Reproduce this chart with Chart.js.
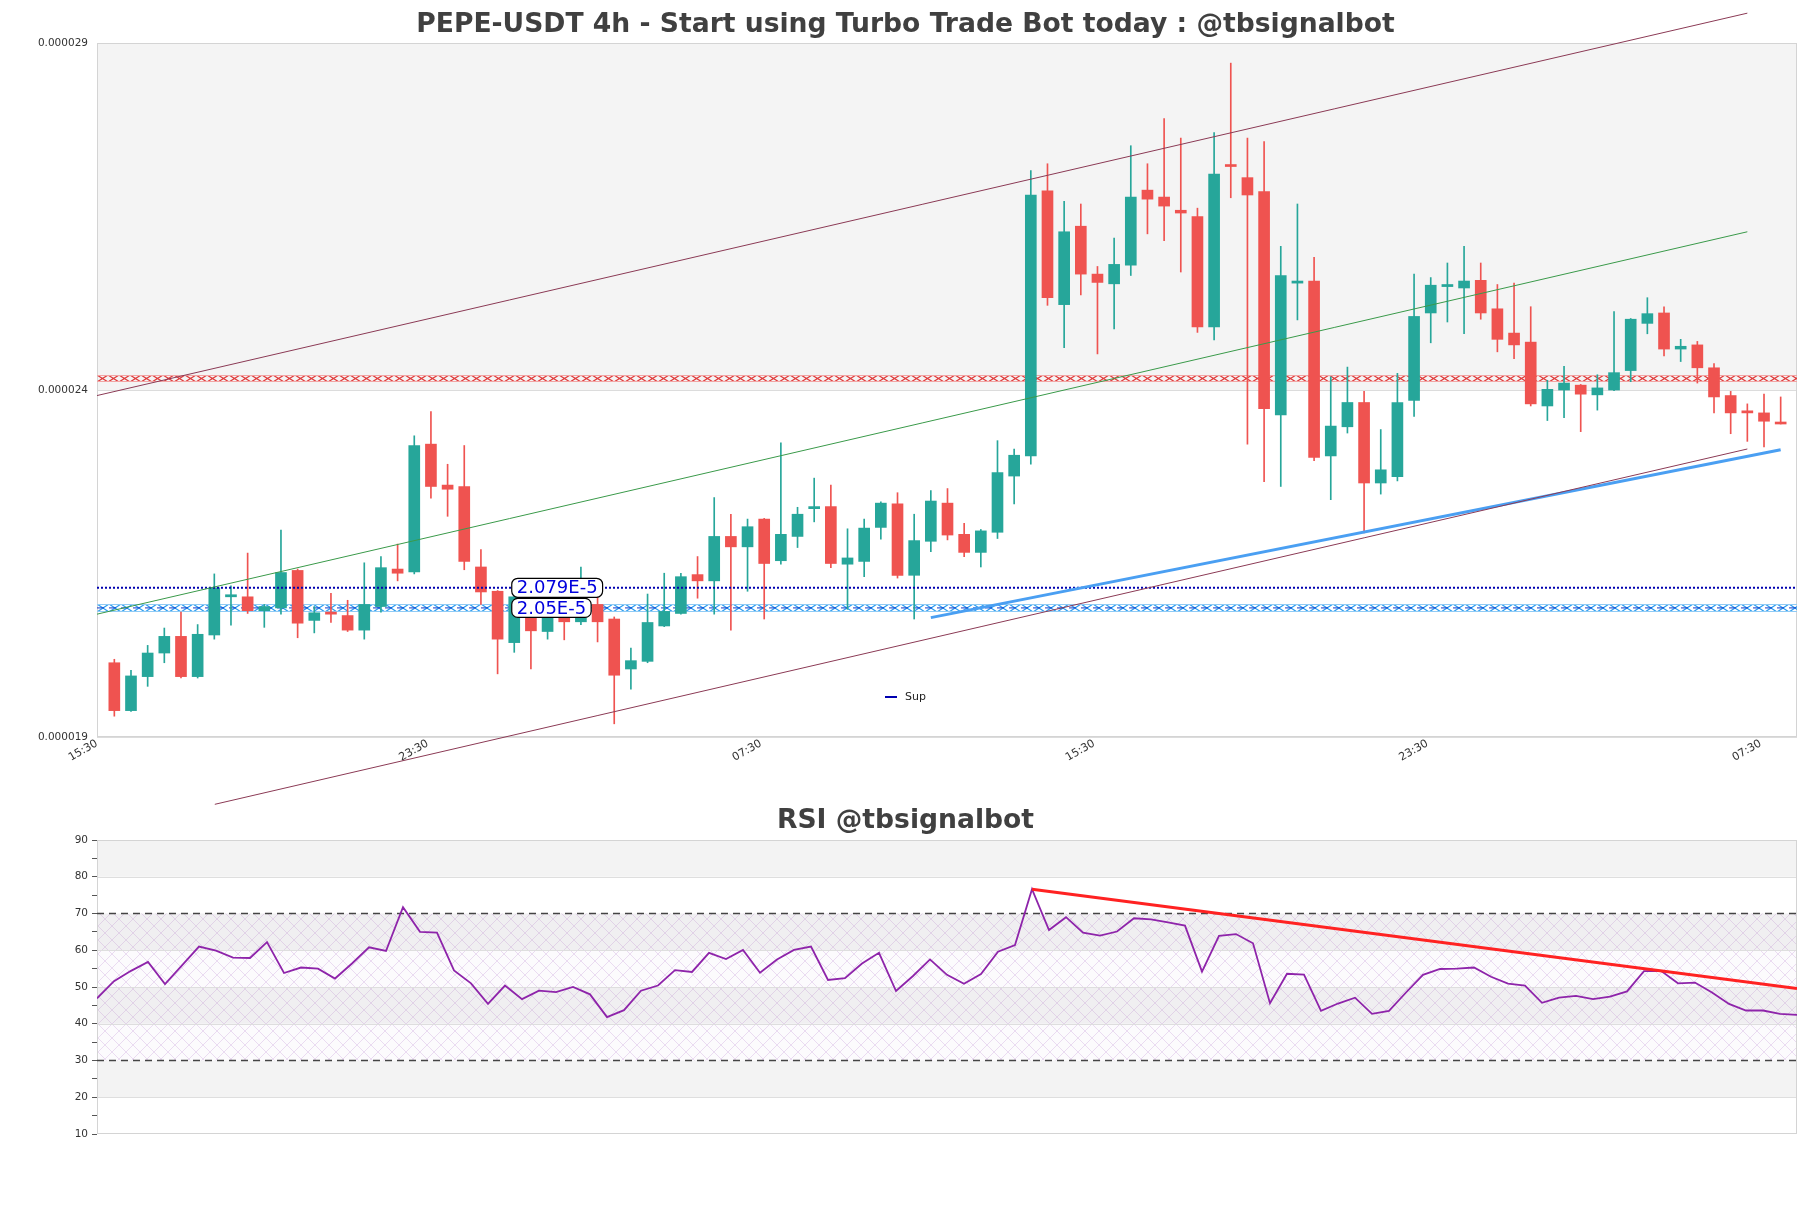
<!DOCTYPE html>
<html>
<head>
<meta charset="utf-8">
<script src="https://cdn.jsdelivr.net/npm/chart.js@4.4.1/dist/chart.umd.min.js"></script>
<style>
  html, body { margin: 0; padding: 0; background: #fff; }
  #wrap { position: relative; width: 1811px; height: 1208px; }
  #priceChart { position: absolute; left: 0; top: 0; }
  #rsiChart { position: absolute; left: 0; top: 800px; }
</style>
</head>
<body>
<div id="wrap">
  <canvas id="priceChart" width="1811" height="830"></canvas>
  <canvas id="rsiChart" width="1811" height="408"></canvas>
</div>
<script>
// prices are in millionths of USDT (24 -> 0.000024)
const openP = [20.07,19.38,19.87,20.21,20.45,19.87,20.47,21.02,21.02,20.82,
  20.86,21.40,20.68,20.80,20.75,20.54,20.88,21.42,21.38,23.22,
  22.63,22.61,21.45,21.10,20.36,20.74,20.52,20.74,20.66,20.91,
  20.70,19.98,20.09,20.60,20.78,21.34,21.25,21.89,21.74,22.14,
  21.54,21.89,22.29,22.32,21.49,21.53,22.02,22.36,21.33,21.82,
  22.37,21.92,21.66,21.95,22.76,23.05,26.87,25.23,26.36,25.67,
  25.53,25.80,26.88,26.78,26.59,26.50,24.91,27.24,27.06,26.86,
  23.64,25.54,25.57,23.05,23.47,23.82,22.66,22.75,23.85,25.11,
  25.49,25.47,25.58,25.17,24.82,24.69,23.77,24.00,24.07,23.93,
  24.00,24.28,24.96,25.11,24.59,24.65,24.32,23.92,23.70,23.67,
  23.53];
const highP = [20.12,19.96,20.32,20.57,20.80,20.62,21.35,21.18,21.65,20.91,
  21.98,21.42,20.88,21.07,20.97,21.51,21.60,21.78,23.34,23.69,
  22.93,23.20,21.70,21.11,21.05,20.80,20.78,20.85,21.45,21.08,
  20.73,20.28,21.06,21.36,21.36,21.60,22.45,22.21,22.14,22.15,
  23.24,22.31,22.73,22.63,22.00,22.14,22.39,22.52,22.21,22.55,
  22.58,22.08,21.99,23.27,23.15,27.16,27.26,26.72,26.68,25.78,
  26.19,27.52,27.26,27.91,27.63,26.62,27.71,28.71,27.63,27.58,
  26.07,26.68,25.91,24.19,24.33,23.98,23.43,24.24,25.67,25.62,
  25.83,26.07,25.83,25.52,25.54,25.20,24.14,24.34,24.08,24.22,
  25.13,25.03,25.33,25.20,24.73,24.70,24.38,23.98,23.80,23.94,
  23.90];
const lowP = [19.30,19.37,19.73,20.07,19.85,19.85,20.41,20.61,20.78,20.58,
  20.77,20.43,20.50,20.65,20.52,20.41,20.80,21.25,21.35,22.44,
  22.18,21.41,20.91,19.91,20.22,19.98,20.41,20.40,20.62,20.37,
  19.19,19.69,20.07,20.59,20.77,21.00,20.77,20.54,21.10,20.70,
  21.49,21.73,22.10,21.44,20.84,21.31,21.85,21.29,20.70,21.67,
  21.84,21.60,21.45,21.86,22.36,22.93,25.22,24.61,25.37,24.52,
  24.88,25.65,26.25,26.15,25.70,24.83,24.72,26.77,23.22,22.68,
  22.61,25.01,22.98,22.42,23.38,21.94,22.50,22.69,23.62,24.68,
  24.98,24.81,25.02,24.55,24.45,23.77,23.56,23.60,23.40,23.71,
  23.99,24.12,24.81,24.49,24.41,24.10,23.67,23.37,23.26,23.18,
  23.51];
const closeP = [19.38,19.88,20.21,20.45,19.87,20.48,21.15,21.05,20.82,20.88,
  21.37,20.64,20.79,20.77,20.54,20.91,21.44,21.36,23.20,22.61,
  22.57,21.53,21.09,20.41,21.02,20.53,20.74,20.66,20.91,20.66,
  19.89,20.10,20.65,20.81,21.31,21.25,21.89,21.74,22.03,21.50,
  21.92,22.21,22.32,21.50,21.58,22.01,22.37,21.33,21.83,22.40,
  21.91,21.66,21.97,22.81,23.06,26.81,25.33,26.28,25.67,25.55,
  25.81,26.78,26.75,26.65,26.55,24.91,27.11,27.22,26.81,23.73,
  25.65,25.57,23.03,23.48,23.82,22.66,22.85,23.82,25.06,25.51,
  25.52,25.57,25.11,24.73,24.65,23.80,24.01,24.10,23.94,24.03,
  24.25,25.02,25.10,24.59,24.63,24.32,23.90,23.67,23.67,23.55,
  23.51];
const rsiVals = [46.9,51.6,54.4,56.8,50.8,55.9,61.0,59.9,58.0,57.9,
  62.2,53.8,55.3,55.0,52.3,56.4,60.8,59.8,71.7,65.0,
  64.8,54.5,51.0,45.4,50.4,46.7,49.0,48.6,50.0,48.0,
  41.8,43.7,49.0,50.4,54.6,54.1,59.3,57.6,60.1,53.9,
  57.5,60.1,61.0,51.9,52.4,56.4,59.3,48.9,53.0,57.5,
  53.3,50.9,53.5,59.6,61.4,76.6,65.5,69.0,64.8,64.0,
  65.1,68.7,68.4,67.6,66.7,54.2,63.9,64.4,61.9,45.6,
  53.6,53.4,43.5,45.5,47.1,42.7,43.5,48.5,53.3,54.9,
  55.0,55.3,52.8,50.9,50.4,45.7,47.1,47.6,46.7,47.4,
  48.8,54.3,54.4,51.0,51.2,48.5,45.4,43.6,43.6,42.7,
  42.4];

const xTickPos = [-1.04, 18.8, 38.8, 58.8, 78.8, 98.8];
const xTickLabels = ['15:30', '23:30', '07:30', '15:30', '23:30', '07:30'];
const yTickVals = [19, 24, 29];
const yTickLabels = ['0.000019', '0.000024', '0.000029'];

// trend lines as [candle index, price] end points
const upperChan = [[-1.04, 23.92], [98, 29.43]];
const midChan = [[-1.04, 20.77], [98, 26.28]];
const lowerChan = [[6.03, 18.03], [98, 23.15]];
const supTrend = [[49, 20.72], [100, 23.14]];

const supLevel = 21.15, supText = '2.079E-5';
const supZone = 20.86, supZoneText = '2.05E-5';
const resZone = 24.16;

const rsiTrend = [[55, 76.6], [100, 49.6]];
const rsiLevels = [70, 30];

const X_MIN = -1.04, X_MAX = 100.98;
const GREEN = '#26a69a', RED = '#ef5350';

Chart.defaults.font.family = "'DejaVu Sans', sans-serif";
Chart.defaults.color = '#333';

const idx = openP.map((_, i) => i);
const candleColor = idx.map(i => closeP[i] >= openP[i] ? GREEN : RED);
const pts = arr => arr.map(p => ({ x: p[0], y: p[1] }));

function xPattern(ctx, color, w, h) {
  const c = document.createElement('canvas');
  c.width = w; c.height = h;
  const g = c.getContext('2d');
  g.strokeStyle = color;
  g.lineWidth = 1.2;
  g.beginPath();
  g.moveTo(0, 0); g.lineTo(w, h);
  g.moveTo(0, h); g.lineTo(w, 0);
  g.stroke();
  return ctx.createPattern(c, 'repeat');
}

function drawZone(chart, level, color, edge, centre, w, h) {
  const { ctx, chartArea: a, scales: { y } } = chart;
  const yc = y.getPixelForValue(level);
  const top = Math.round(yc - h / 2);
  const pat = xPattern(ctx, color, w, h);
  pat.setTransform(new DOMMatrix().translate(a.left, top));
  ctx.save();
  ctx.fillStyle = pat;
  ctx.fillRect(a.left, top, a.width, h);
  ctx.strokeStyle = edge;
  ctx.lineWidth = 1;
  ctx.beginPath();
  ctx.moveTo(a.left, top + 0.5); ctx.lineTo(a.right, top + 0.5);
  ctx.moveTo(a.left, top + h - 0.5); ctx.lineTo(a.right, top + h - 0.5);
  ctx.stroke();
  if (centre) {
    ctx.strokeStyle = centre;
    ctx.setLineDash([7, 5]);
    ctx.beginPath();
    ctx.moveTo(a.left, yc); ctx.lineTo(a.right, yc);
    ctx.stroke();
  }
  ctx.restore();
}

function tag(ctx, text, x, yc) {
  ctx.save();
  ctx.font = "18px 'DejaVu Sans'";
  const w = ctx.measureText(text).width + 10;
  ctx.beginPath();
  ctx.roundRect(x, yc - 9.5, w, 19, 6);
  ctx.fillStyle = '#fff';
  ctx.fill();
  ctx.strokeStyle = '#000';
  ctx.lineWidth = 1.2;
  ctx.stroke();
  ctx.fillStyle = '#0000dd';
  ctx.textBaseline = 'middle';
  ctx.fillText(text, x + 5, yc + 1);
  ctx.restore();
}

const priceDecor = {
  id: 'priceDecor',
  beforeDraw(chart) {
    const { ctx, chartArea: a, scales: { y } } = chart;
    const t = y.getPixelForValue(29), m = y.getPixelForValue(24);
    ctx.save();
    ctx.fillStyle = '#f4f4f4';
    ctx.fillRect(a.left, t, a.width, m - t);
    ctx.restore();
  },
  beforeDatasetsDraw(chart) {
    const { ctx, chartArea: a } = chart;
    ctx.save();
    ctx.strokeStyle = '#d4d4d4';
    ctx.lineWidth = 1;
    ctx.strokeRect(a.left + 0.5, a.top + 0.5, a.width - 1, a.height - 1);
    ctx.restore();
    drawZone(chart, resZone, '#e03a3a', '#f2a5a5', null, 11, 7);
    drawZone(chart, supZone, '#2b9cf0', '#90cbf5', '#1038c8', 12, 8);
  },
  afterDatasetsDraw(chart) {
    const { ctx, chartArea: a, scales: { x, y } } = chart;
    const lx = x.getPixelForValue(23.85);
    tag(ctx, supText, lx, y.getPixelForValue(supLevel));
    tag(ctx, supZoneText, lx, y.getPixelForValue(supZone));
    // legend
    const sup = chart.data.datasets.find(d => d.label === 'Sup');
    const ly = a.bottom - 40;
    ctx.save();
    ctx.strokeStyle = sup.borderColor;
    ctx.lineWidth = 2;
    ctx.beginPath();
    ctx.moveTo(a.left + 788, ly); ctx.lineTo(a.left + 800, ly);
    ctx.stroke();
    ctx.fillStyle = '#222';
    ctx.font = "11px 'DejaVu Sans'";
    ctx.textBaseline = 'middle';
    ctx.fillText(sup.label, a.left + 808, ly);
    ctx.restore();
  }
};

new Chart(document.getElementById('priceChart'), {
  type: 'bar',
  data: {
    datasets: [
      { type: 'line', label: 'upper', data: pts(upperChan), borderColor: '#8b3a55', borderWidth: 1, pointRadius: 0, clip: false, order: 0 },
      { type: 'line', label: 'mid', data: pts(midChan), borderColor: '#3a9a4a', borderWidth: 1, pointRadius: 0, clip: false, order: 0 },
      { type: 'line', label: 'lower', data: pts(lowerChan), borderColor: '#8b3a55', borderWidth: 1, pointRadius: 0, clip: false, order: 0 },
      { type: 'line', label: 'trend', data: pts(supTrend), borderColor: '#4a9ff2', borderWidth: 3, pointRadius: 0, clip: false, order: 0 },
      { type: 'line', label: 'Sup', data: pts([[X_MIN, supLevel], [X_MAX, supLevel]]), borderColor: '#0000b0', borderWidth: 2, borderDash: [2, 2], pointRadius: 0, order: 0 },
      { label: 'body', data: idx.map(i => ({ x: i, y: [openP[i], closeP[i]] })), backgroundColor: candleColor, barThickness: 11, minBarLength: 2, grouped: false, order: 1 },
      { label: 'wick', data: idx.map(i => ({ x: i, y: [lowP[i], highP[i]] })), backgroundColor: candleColor, barThickness: 1, grouped: false, order: 2 }
    ]
  },
  options: {
    responsive: false,
    animation: false,
    layout: { padding: { left: 14, right: 14, top: 0, bottom: 0 } },
    plugins: {
      legend: { display: false },
      tooltip: { enabled: false },
      title: {
        display: true,
        text: 'PEPE-USDT 4h - Start using Turbo Trade Bot today : @tbsignalbot',
        font: { size: 26.6, weight: 'bold' },
        color: '#404040',
        padding: { top: 9.14, bottom: 1.94 }
      }
    },
    scales: {
      x: {
        type: 'linear', min: X_MIN, max: X_MAX, offset: false,
        grid: { display: false },
        border: { display: false },
        afterBuildTicks: s => { s.ticks = xTickPos.map(v => ({ value: v })); },
        afterFit: s => { s.height = 93; },
        ticks: {
          autoSkip: false, maxRotation: 30, minRotation: 30, padding: -8,
          font: { size: 11 }, color: '#333',
          callback: (v, i) => xTickLabels[i]
        }
      },
      y: {
        min: 19, max: 29,
        grid: { color: '#dcdcdc', drawTicks: false },
        border: { display: false },
        afterBuildTicks: s => { s.ticks = yTickVals.map(v => ({ value: v })); },
        afterFit: s => { s.width = 83; },
        ticks: { padding: 9, font: { size: 10.5 }, color: '#333', callback: (v, i) => yTickLabels[i] }
      }
    }
  },
  plugins: [priceDecor]
});

const rsiDecor = {
  id: 'rsiDecor',
  beforeDraw(chart) {
    const { ctx, chartArea: a, scales: { y } } = chart;
    ctx.save();
    ctx.fillStyle = '#f3f3f3';
    [[80, 90], [60, 70], [40, 50], [20, 30]].forEach(([lo, hi]) => {
      const t = y.getPixelForValue(hi), b = y.getPixelForValue(lo);
      ctx.fillRect(a.left, t, a.width, b - t);
    });
    // hatched zone between the oversold / overbought levels
    const c = document.createElement('canvas');
    c.width = 14; c.height = 14;
    const g = c.getContext('2d');
    g.strokeStyle = 'rgba(180,125,205,0.32)';
    g.lineWidth = 0.8;
    g.beginPath();
    g.moveTo(0, 0); g.lineTo(14, 14);
    g.moveTo(0, 14); g.lineTo(14, 0);
    g.stroke();
    const t = y.getPixelForValue(70), b = y.getPixelForValue(30);
    ctx.fillStyle = 'rgba(200,170,225,0.05)';
    ctx.fillRect(a.left, t, a.width, b - t);
    ctx.fillStyle = ctx.createPattern(c, 'repeat');
    ctx.fillRect(a.left, t, a.width, b - t);
    ctx.strokeStyle = '#dedede';
    ctx.lineWidth = 1;
    ctx.beginPath();
    [20, 40, 50, 60, 80].forEach(v => {
      const py = Math.round(y.getPixelForValue(v)) + 0.5;
      ctx.moveTo(a.left, py); ctx.lineTo(a.right, py);
    });
    ctx.stroke();
    ctx.strokeStyle = '#d4d4d4';
    ctx.strokeRect(a.left + 0.5, a.top + 0.5, a.width - 1, a.height - 1);
    ctx.restore();
  }
};

new Chart(document.getElementById('rsiChart'), {
  type: 'line',
  data: {
    datasets: [
      { label: 'RSI', data: rsiVals.map((v, i) => ({ x: i, y: v })), borderColor: '#8e24aa', borderWidth: 1.8, pointRadius: 0, order: 1 },
      { label: 'rsiTrend', data: pts(rsiTrend), borderColor: '#ff2222', borderWidth: 3, pointRadius: 0, order: 0 },
      ...rsiLevels.map(l => ({ label: 'lvl' + l, data: [{ x: 0, y: l }, { x: 100, y: l }], borderColor: '#444', borderWidth: 1.3, borderDash: [7, 5], pointRadius: 0, order: 2 }))
    ]
  },
  options: {
    responsive: false,
    animation: false,
    layout: { padding: { left: 14, right: 14, top: 0, bottom: 74 } },
    plugins: {
      legend: { display: false },
      tooltip: { enabled: false },
      title: {
        display: true,
        text: 'RSI @tbsignalbot',
        font: { size: 26.6, weight: 'bold' },
        color: '#404040',
        padding: { top: 5.44, bottom: 2.64 }
      }
    },
    scales: {
      x: { type: 'linear', min: 0, max: 100, display: false },
      y: {
        min: 10, max: 90,
        grid: { drawOnChartArea: false, drawTicks: true, tickLength: 5, tickColor: '#555' },
        border: { display: false },
        afterFit: s => { s.width = 83; },
        ticks: {
          stepSize: 5, padding: 4, font: { size: 10.5 }, color: '#333',
          callback: v => (v % 10 === 0 ? String(v) : '')
        }
      }
    }
  },
  plugins: [rsiDecor]
});
</script>
</body>
</html>
